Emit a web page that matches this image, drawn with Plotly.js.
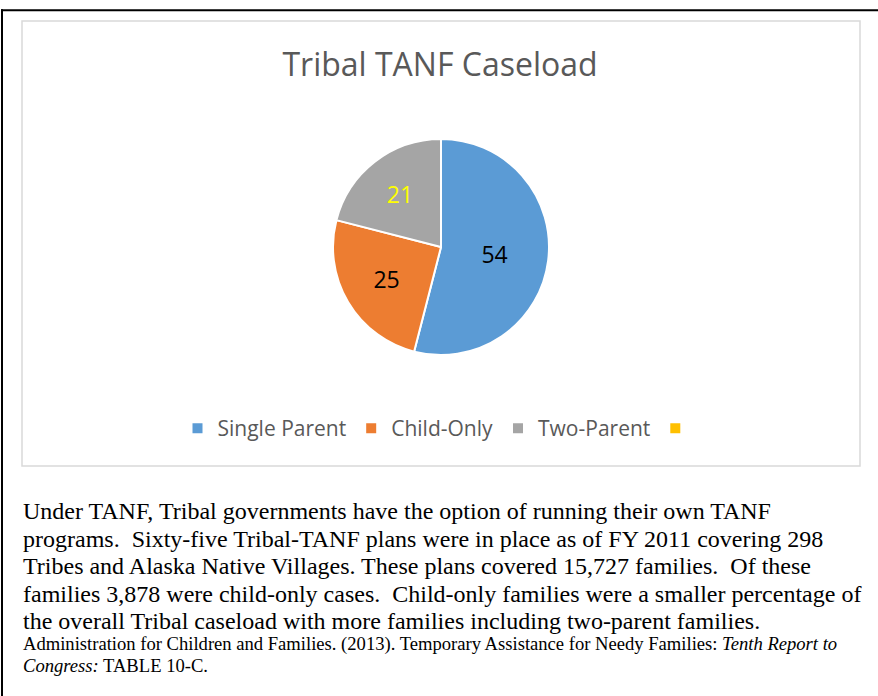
<!DOCTYPE html>
<html>
<head>
<meta charset="utf-8">
<script src="https://cdn.plot.ly/plotly-3.0.1.min.js"></script>
<style>
  html, body { margin: 0; padding: 0; background: #ffffff; }
  #chart { width: 878px; height: 696px; }
</style>
</head>
<body>
<div id="chart"></div>
<script>
// ---- data ----
var categories = ["Single Parent", "Child-Only", "Two-Parent", " "];
var caseloadValues = [54, 25, 21, 0];
var sliceColors = ["#5B9BD5", "#ED7D31", "#A5A5A5", "#FFC000"];
var labelColors = ["#000000", "#000000", "#FFFF00", "#000000"];
var labelTemplates = ["%{value}", "%{value}", "%{value}", ""];
var chartTitle = "Tribal TANF Caseload";
var bodyLines = [
  "Under TANF, Tribal governments have the option of running their own TANF",
  "programs.\u00a0 Sixty-five Tribal-TANF plans were in place as of FY 2011 covering 298",
  "Tribes and Alaska Native Villages. These plans covered 15,727 families.\u00a0 Of these",
  "families 3,878 were child-only cases.\u00a0 Child-only families were a smaller percentage of",
  "the overall Tribal caseload with more families including two-parent families."
];
var sourceLines = [
  "Administration for Children and Families. (2013). Temporary Assistance for Needy Families: <i>Tenth Report to</i>",
  "<i>Congress:</i> TABLE 10-C."
];

// ---- layout helpers ----
var W = 878, H = 696;
function px(x) { return x / W; }
function py(y) { return 1 - y / H; }

var pieCx = 441, pieCy = 247, pieR = 108;

var trace = {
  type: "pie",
  labels: categories,
  values: caseloadValues,
  sort: false,
  direction: "clockwise",
  rotation: 0,
  marker: { colors: sliceColors, line: { color: "#FFFFFF", width: 2 } },
  texttemplate: labelTemplates,
  textposition: "inside",
  insidetextorientation: "horizontal",
  insidetextfont: { family: "Open Sans, sans-serif", size: 23, color: labelColors },
  hoverinfo: "label+value",
  domain: { x: [px(pieCx - pieR), px(pieCx + pieR)], y: [py(pieCy + pieR), py(pieCy - pieR)] },
  showlegend: true
};

var annotations = [];
var bodyY = [510.5, 538.5, 566, 593.5, 621];
bodyLines.forEach(function (t, i) {
  annotations.push({
    text: t, xref: "paper", yref: "paper", x: px(21), y: py(bodyY[i]),
    xanchor: "left", yanchor: "middle", showarrow: false,
    font: { family: "Liberation Serif, Times New Roman, serif", size: 24, color: "#000000" }
  });
});
var sourceY = [643.5, 665];
sourceLines.forEach(function (t, i) {
  annotations.push({
    text: t, xref: "paper", yref: "paper", x: px(21), y: py(sourceY[i]),
    xanchor: "left", yanchor: "middle", showarrow: false,
    font: { family: "Liberation Serif, Times New Roman, serif", size: 18.6, color: "#000000" }
  });
});

var layout = {
  width: W, height: H,
  margin: { l: 0, r: 0, t: 0, b: 0 },
  paper_bgcolor: "#FFFFFF",
  plot_bgcolor: "#FFFFFF",
  title: {
    text: chartTitle,
    font: { family: "Open Sans, sans-serif", size: 32, color: "#595959" },
    x: px(440), xanchor: "center", xref: "paper",
    y: py(65), yanchor: "middle", yref: "container"
  },
  showlegend: true,
  legend: {
    orientation: "h",
    x: px(442), xanchor: "center",
    y: py(428.5), yanchor: "middle",
    font: { family: "Open Sans, sans-serif", size: 21, color: "#595959" },
    itemwidth: 30,
    bgcolor: "rgba(0,0,0,0)"
  },
  shapes: [
    { type: "rect", xref: "paper", yref: "paper",
      x0: px(22), x1: px(860), y0: py(466), y1: py(21),
      line: { color: "#D9D9D9", width: 1.5 }, fillcolor: "rgba(0,0,0,0)" },
    { type: "line", xref: "paper", yref: "paper",
      x0: px(1), x1: px(878), y0: py(10.3), y1: py(10.3),
      line: { color: "#000000", width: 2 } },
    { type: "line", xref: "paper", yref: "paper",
      x0: px(2), x1: px(2), y0: py(9.3), y1: py(696),
      line: { color: "#000000", width: 2 } }
  ],
  annotations: annotations
};

Plotly.newPlot("chart", [trace], layout, { displayModeBar: false, staticPlot: true });
</script>
</body>
</html>
